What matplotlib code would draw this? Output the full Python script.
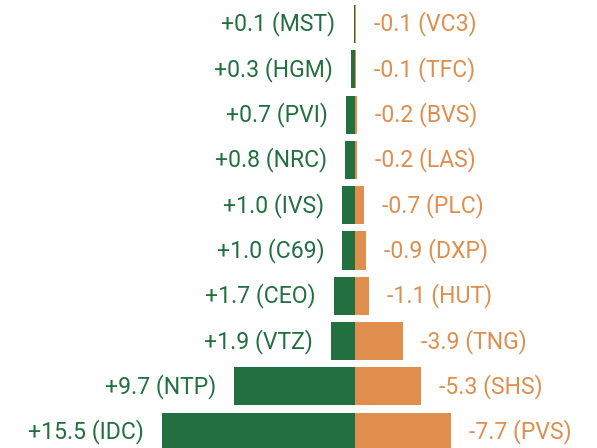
import matplotlib.pyplot as plt
import numpy as np

# ganhos (lado esquerdo, verde) e perdas (lado direito, laranja)
cod_alta = ['MST', 'HGM', 'PVI', 'NRC', 'IVS', 'C69', 'CEO', 'VTZ', 'NTP', 'IDC']
val_alta = [0.1, 0.3, 0.7, 0.8, 1.0, 1.0, 1.7, 1.9, 9.7, 15.5]
cod_baixa = ['VC3', 'TFC', 'BVS', 'LAS', 'PLC', 'DXP', 'HUT', 'TNG', 'SHS', 'PVS']
val_baixa = [-0.1, -0.1, -0.2, -0.2, -0.7, -0.9, -1.1, -3.9, -5.3, -7.7]

verde = '#22703f'
laranja = '#df8e4d'

plt.rcParams['font.family'] = ['Roboto', 'DejaVu Sans']

fig = plt.figure(figsize=(5.97, 4.48), dpi=100)
ax = fig.add_axes([0, 0, 1, 1])

y = np.arange(len(cod_alta))
ax.barh(y, -np.array(val_alta), height=0.84, color=verde)
ax.barh(y, -np.array(val_baixa), height=0.84, color=laranja)

for i in range(len(y)):
    ax.annotate('+%.1f (%s)' % (val_alta[i], cod_alta[i]), (-val_alta[i], y[i]),
                xytext=(-18, 0), textcoords='offset pixels',
                ha='right', va='center', color=verde, fontsize=16.6)
    ax.annotate('%.1f (%s)' % (val_baixa[i], cod_baixa[i]), (-val_baixa[i], y[i]),
                xytext=(18, 0), textcoords='offset pixels',
                ha='left', va='center', color=laranja, fontsize=16.6)

ax.set_xlim(-28.5, 19.45)
ax.set_ylim(9.36, -0.53)
ax.axis('off')

fig.savefig('out.png', dpi=100)
